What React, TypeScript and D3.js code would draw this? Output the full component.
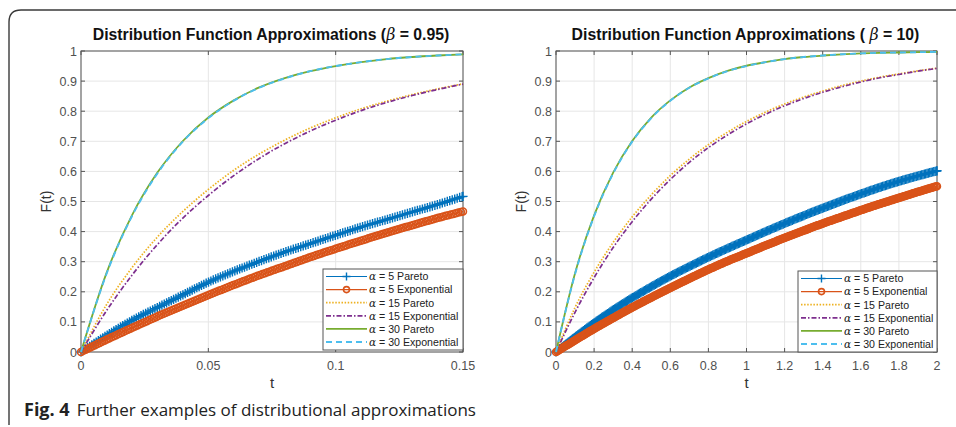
import React, { useEffect, useRef } from "react";
import * as d3 from "d3";

// ---- data ----
const tLeft = [0, 0.01, 0.02, 0.03, 0.04, 0.05, 0.06, 0.07, 0.08, 0.09, 0.1, 0.11, 0.12, 0.13, 0.14, 0.15];
const left5Pareto = [0, 0.055, 0.105, 0.148, 0.19, 0.232, 0.268, 0.301, 0.332, 0.36, 0.388, 0.415, 0.44, 0.465, 0.49, 0.517];
const left5Exp = [0, 0.041, 0.08, 0.118, 0.154, 0.189, 0.223, 0.255, 0.285, 0.315, 0.343, 0.37, 0.396, 0.421, 0.445, 0.467];
const left15Pareto = [0, 0.157, 0.28, 0.382, 0.467, 0.54, 0.604, 0.658, 0.704, 0.744, 0.778, 0.808, 0.833, 0.855, 0.874, 0.891];
const left15Exp = [0, 0.137, 0.255, 0.357, 0.445, 0.52, 0.586, 0.643, 0.692, 0.734, 0.77, 0.802, 0.829, 0.852, 0.872, 0.89];
const left30Pareto = [0, 0.262, 0.454, 0.596, 0.701, 0.779, 0.836, 0.879, 0.91, 0.933, 0.95, 0.963, 0.973, 0.98, 0.985, 0.989];
const left30Exp = [0, 0.259, 0.451, 0.593, 0.699, 0.777, 0.835, 0.878, 0.909, 0.933, 0.95, 0.963, 0.973, 0.98, 0.985, 0.989];

const tRight = [0, 0.1, 0.2, 0.3, 0.4, 0.5, 0.6, 0.7, 0.8, 0.9, 1.0, 1.1, 1.2, 1.3, 1.4, 1.5, 1.6, 1.7, 1.8, 1.9, 2.0];
const right5Pareto = [0, 0.05, 0.097, 0.14, 0.18, 0.217, 0.252, 0.284, 0.315, 0.344, 0.372, 0.4, 0.427, 0.453, 0.478, 0.502, 0.525, 0.547, 0.567, 0.585, 0.602];
const right5Exp = [0, 0.039, 0.077, 0.113, 0.148, 0.181, 0.213, 0.244, 0.274, 0.302, 0.328, 0.354, 0.379, 0.403, 0.427, 0.449, 0.471, 0.492, 0.512, 0.532, 0.551];
const right15Pareto = [0, 0.148, 0.265, 0.364, 0.449, 0.522, 0.586, 0.641, 0.689, 0.73, 0.766, 0.797, 0.824, 0.847, 0.867, 0.885, 0.9, 0.913, 0.924, 0.934, 0.943];
const right15Exp = [0, 0.132, 0.247, 0.347, 0.433, 0.508, 0.573, 0.63, 0.679, 0.721, 0.758, 0.79, 0.818, 0.842, 0.863, 0.881, 0.897, 0.911, 0.922, 0.933, 0.942];
const right30Pareto = [0, 0.262, 0.454, 0.596, 0.701, 0.779, 0.836, 0.879, 0.91, 0.934, 0.951, 0.963, 0.973, 0.98, 0.985, 0.989, 0.992, 0.994, 0.995, 0.996, 0.997];
const right30Exp = [0, 0.259, 0.451, 0.593, 0.699, 0.777, 0.835, 0.878, 0.909, 0.933, 0.95, 0.963, 0.973, 0.98, 0.985, 0.989, 0.992, 0.994, 0.995, 0.996, 0.997];

const yTicks = [0, 0.1, 0.2, 0.3, 0.4, 0.5, 0.6, 0.7, 0.8, 0.9, 1];
const leftXTicks = [0, 0.05, 0.1, 0.15];
const rightXTicks = [0, 0.2, 0.4, 0.6, 0.8, 1, 1.2, 1.4, 1.6, 1.8, 2];
const legendLabels = ["5 Pareto", "5 Exponential", "15 Pareto", "15 Exponential", "30 Pareto", "30 Exponential"];

const W = 956;
const H = 427;
const Y0 = 352;
const Y1 = 51;
const FONT = "'Liberation Sans', Arial, Helvetica, sans-serif";
const SERIF = "'DejaVu Serif', 'Liberation Serif', serif";

type Style = { color: string; width: number; dash?: string; marker?: "plus" | "circle" };
const styles: Style[] = [
  { color: "#0072BD", width: 1.2, marker: "plus" },
  { color: "#D95319", width: 1.2, marker: "circle" },
  { color: "#EDB120", width: 1.7, dash: "1.5 1.6" },
  { color: "#7E2F8E", width: 1.7, dash: "5 2 1.5 2" },
  { color: "#77AC30", width: 1.8 },
  { color: "#4DBEEE", width: 1.9, dash: "6 4" },
];

const panels = [
  {
    x0: 81, x1: 463, t: tLeft, tMax: 0.15, xTicks: leftXTicks,
    title: "Distribution Function Approximations (", beta: " = 0.95)",
    series: [left5Pareto, left5Exp, left15Pareto, left15Exp, left30Pareto, left30Exp],
    legend: { x: 323, y: 269, w: 140, h: 81 }, step: 2.6,
  },
  {
    x0: 556, x1: 937, t: tRight, tMax: 2, xTicks: rightXTicks,
    title: "Distribution Function Approximations ( ", beta: " = 10)",
    series: [right5Pareto, right5Exp, right15Pareto, right15Exp, right30Pareto, right30Exp],
    legend: { x: 798, y: 271, w: 139, h: 81 }, step: 1.4,
  },
];

function drawMarker(g: any, kind: string, px: number, py: number, color: string, s = 4.6) {
  if (kind === "plus") {
    g.append("path")
      .attr("d", `M${px - s},${py}H${px + s}M${px},${py - s}V${py + s}`)
      .attr("stroke", color).attr("stroke-width", 1.4).attr("fill", "none");
  } else {
    g.append("circle").attr("cx", px).attr("cy", py).attr("r", s * 0.75)
      .attr("stroke", color).attr("stroke-width", 1.6).attr("fill", "none");
  }
}

export default function App() {
  const ref = useRef<SVGSVGElement>(null);

  useEffect(() => {
    const svg = d3.select(ref.current);
    svg.selectAll("*").remove();

    // figure frame
    svg.append("path")
      .attr("d", "M9,425 L9,22 Q9,10 21,10 L956,10")
      .attr("fill", "none").attr("stroke", "#3a3a3a").attr("stroke-width", 1.4);

    panels.forEach((p) => {
      const x = d3.scaleLinear().domain([0, p.tMax]).range([p.x0, p.x1]);
      const y = d3.scaleLinear().domain([0, 1]).range([Y0, Y1]);
      const g = svg.append("g");

      // grid
      g.selectAll(null).data(p.xTicks).join("line")
        .attr("x1", (d) => x(d)).attr("x2", (d) => x(d)).attr("y1", Y0).attr("y2", Y1)
        .attr("stroke", "#e6e6e6");
      g.selectAll(null).data(yTicks).join("line")
        .attr("x1", p.x0).attr("x2", p.x1).attr("y1", (d) => y(d)).attr("y2", (d) => y(d))
        .attr("stroke", "#e6e6e6");

      // box + ticks
      g.append("rect").attr("x", p.x0).attr("y", Y1).attr("width", p.x1 - p.x0).attr("height", Y0 - Y1)
        .attr("fill", "none").attr("stroke", "#555").attr("stroke-width", 1);
      g.selectAll(null).data(p.xTicks).join("path")
        .attr("d", (d) => `M${x(d)},${Y0}v-4M${x(d)},${Y1}v4`).attr("stroke", "#555");
      g.selectAll(null).data(yTicks).join("path")
        .attr("d", (d) => `M${p.x0},${y(d)}h4M${p.x1},${y(d)}h-4`).attr("stroke", "#555");

      // tick labels
      g.selectAll(null).data(p.xTicks).join("text")
        .attr("x", (d) => x(d)).attr("y", 370).attr("text-anchor", "middle")
        .attr("font-family", FONT).attr("font-size", 12.5).attr("fill", "#505050")
        .text((d) => String(d));
      g.selectAll(null).data(yTicks).join("text")
        .attr("x", p.x0 - 4).attr("y", (d) => y(d) + 4.5).attr("text-anchor", "end")
        .attr("font-family", FONT).attr("font-size", 12.5).attr("fill", "#505050")
        .text((d) => String(d));

      // axis labels
      const cx = (p.x0 + p.x1) / 2;
      g.append("text").attr("x", cx).attr("y", 388).attr("text-anchor", "middle")
        .attr("font-family", FONT).attr("font-size", 15).attr("fill", "#333").text("t");
      g.append("text").attr("transform", `translate(${p.x0 - 30},${(Y0 + Y1) / 2}) rotate(-90)`)
        .attr("text-anchor", "middle").attr("font-family", FONT).attr("font-size", 14).attr("fill", "#333")
        .text("F(t)");

      // title
      const tt = g.append("text").attr("x", cx - 1).attr("y", 40).attr("text-anchor", "middle")
        .attr("font-family", FONT).attr("font-size", 15.8).attr("font-weight", "bold").attr("fill", "#111");
      tt.append("tspan").text(p.title);
      tt.append("tspan").attr("font-family", SERIF).attr("font-style", "italic").attr("font-weight", "normal").text("β");
      tt.append("tspan").text(p.beta);

      // lines
      const line = d3.line<number>().x((_, i) => x(p.t[i])).y((d) => y(d)).curve(d3.curveMonotoneX);
      p.series.forEach((vals, si) => {
        const st = styles[si];
        const path = g.append("path").attr("d", line(vals) || "").attr("fill", "none")
          .attr("stroke", st.color).attr("stroke-width", st.width)
          .attr("stroke-dasharray", st.dash || null);
        if (st.marker) {
          const node = path.node() as SVGPathElement;
          const total = node.getTotalLength();
          const mg = g.append("g");
          for (let l = 0; l <= total; l += p.step) {
            const pt = node.getPointAtLength(l);
            drawMarker(mg, st.marker, pt.x, pt.y, st.color);
          }
          const end = node.getPointAtLength(total);
          drawMarker(mg, st.marker, end.x, end.y, st.color);
        }
      });

      // legend
      const L = p.legend;
      const lg = g.append("g");
      lg.append("rect").attr("x", L.x).attr("y", L.y).attr("width", L.w).attr("height", L.h)
        .attr("fill", "#fff").attr("stroke", "#555").attr("stroke-width", 1);
      legendLabels.forEach((lab, i) => {
        const st = styles[i];
        const ry = L.y + 7.5 + i * 13.1;
        lg.append("line").attr("x1", L.x + 3).attr("x2", L.x + 44).attr("y1", ry).attr("y2", ry)
          .attr("stroke", st.color).attr("stroke-width", st.width).attr("stroke-dasharray", st.dash || null);
        if (st.marker) drawMarker(lg, st.marker, L.x + 23.5, ry, st.color, 4);
        const tx = lg.append("text").attr("x", L.x + 46).attr("y", ry + 3.8)
          .attr("font-family", FONT).attr("font-size", 10.6).attr("fill", "#222");
        tx.append("tspan").attr("font-family", SERIF).attr("font-style", "italic").text("α");
        tx.append("tspan").text(" = " + lab);
      });
    });

    // caption
    const cap = svg.append("text").attr("x", 24).attr("y", 416)
      .attr("font-family", "'Open Sans', 'Noto Sans', sans-serif").attr("font-size", 17).attr("fill", "#222");
    cap.append("tspan").attr("font-weight", "bold").attr("font-size", 18).text("Fig. 4");
    cap.append("tspan").attr("dx", 7).text("Further examples of distributional approximations");
  }, []);

  return (
    <div style={{ position: "absolute", left: 0, top: 0 }}>
      <svg ref={ref} width={W} height={H} style={{ display: "block", background: "#fff" }} />
    </div>
  );
}
